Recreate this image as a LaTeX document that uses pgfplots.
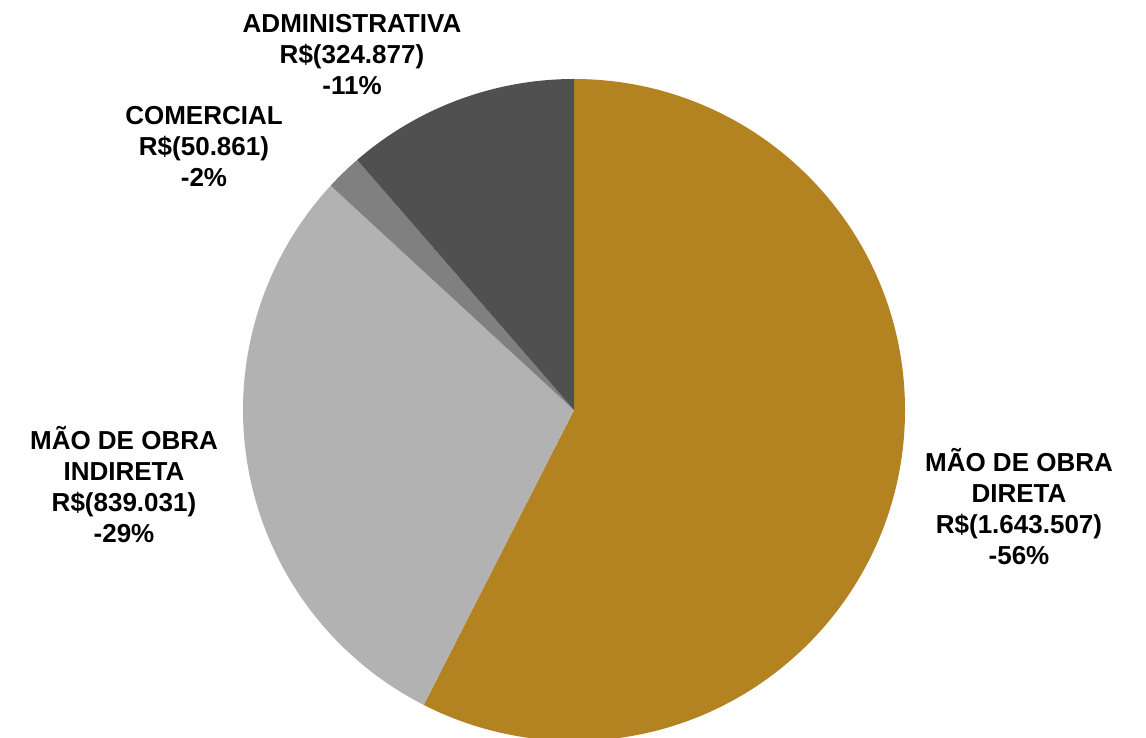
\documentclass[border=0pt]{standalone}
\usepackage{pgfplots}
\pgfplotsset{compat=1.18}
\usepackage{fontspec}
\setmainfont{Liberation Sans}
\definecolor{cDir}{HTML}{B38322}
\definecolor{cInd}{HTML}{B2B2B2}
\definecolor{cCom}{HTML}{808080}
\definecolor{cAdm}{HTML}{505050}
\begin{document}
\begin{tikzpicture}
\path[use as bounding box] (0,0) rectangle (1146pt,737pt);
% values in thousands of R$
\def\vDir{1643.507}
\def\vInd{839.031}
\def\vCom{50.861}
\def\vAdm{324.877}
\pgfmathsetmacro\vTot{\vDir+\vInd+\vCom+\vAdm}
\pgfmathsetmacro\aA{90}
\pgfmathsetmacro\aB{\aA-\vDir/\vTot*360}
\pgfmathsetmacro\aC{\aB-\vInd/\vTot*360}
\pgfmathsetmacro\aD{\aC-\vCom/\vTot*360}
\pgfmathsetmacro\aE{\aD-\vAdm/\vTot*360}
\begin{axis}[hide axis, scale only axis, width=1146pt, height=737pt,
  xmin=0, xmax=1146, ymin=0, ymax=737, at={(0,0)}, anchor=south west]
\fill[cDir] (axis cs:574,327) -- ++(\aA:331pt) arc[start angle=\aA, end angle=\aB, radius=331pt] -- cycle;
\fill[cInd] (axis cs:574,327) -- ++(\aB:331pt) arc[start angle=\aB, end angle=\aC, radius=331pt] -- cycle;
\fill[cCom] (axis cs:574,327) -- ++(\aC:331pt) arc[start angle=\aC, end angle=\aD, radius=331pt] -- cycle;
\fill[cAdm] (axis cs:574,327) -- ++(\aD:331pt) arc[start angle=\aD, end angle=\aE, radius=331pt] -- cycle;
\tikzset{lab/.style={align=center, inner sep=0pt, font=\bfseries\fontsize{26}{31}\selectfont}}
\node[lab] at (axis cs:352,682) {ADMINISTRATIVA\\R\$(324.877)\\-11\%};
\node[lab] at (axis cs:204,590) {COMERCIAL\\R\$(50.861)\\-2\%};
\node[lab] at (axis cs:124,252) {MÃO DE OBRA\\INDIRETA\\R\$(839.031)\\-29\%};
\node[lab] at (axis cs:1019,230) {MÃO DE OBRA\\DIRETA\\R\$(1.643.507)\\-56\%};
\end{axis}
\end{tikzpicture}
\end{document}
